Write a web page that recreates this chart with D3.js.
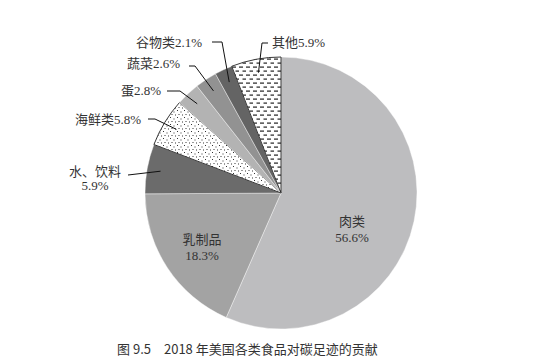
<!DOCTYPE html>
<html>
<head>
<meta charset="utf-8">
<script src="https://cdn.jsdelivr.net/npm/d3@7"></script>
<style>
  body { margin: 0; background: #fff; }
  svg { display: block; }
</style>
</head>
<body>
<div id="chart"></div>
<script>
// data
const categories = ['肉类', '乳制品', '水、饮料', '海鲜类', '蛋', '蔬菜', '谷物类', '其他']
const shares = [56.6, 18.3, 5.9, 5.8, 2.8, 2.6, 2.1, 5.9]
const caption = '图 9.5\u30002018 年美国各类食品对碳足迹的贡献'

const width = 545
const height = 364
const cx = 281
const cy = 193
const radius = 136

const fills = ['#bdbdbf', '#a3a3a3', '#6b6b6b', 'url(#dots)', '#b3b3b3', '#929292', '#646464', 'url(#dashes)']

// label layout: inside = drawn in slice, else text + leader corner
const labelLayout = [
    { inside: true, x: 352, y: 226 },
    { inside: true, x: 202, y: 244 },
    { x: 95, y: 176, two: true, corner: [128, 175], stub: 128 },
    { x: 75, y: 124, anchor: 'start', corner: [155, 119], stub: 148 },
    { x: 121, y: 95, anchor: 'start', corner: [180, 91], stub: 167 },
    { x: 127, y: 68, anchor: 'start', corner: [195, 66], stub: 189 },
    { x: 136, y: 47, anchor: 'start', corner: [222, 42], stub: 212 },
    { x: 272, y: 47, anchor: 'start', corner: [262, 43], stub: 268 }
]

const svg = d3.select('#chart').append('svg')
    .attr('width', width)
    .attr('height', height)

const defs = svg.append('defs')
const dots = defs.append('pattern')
    .attr('id', 'dots')
    .attr('patternUnits', 'userSpaceOnUse')
    .attr('width', 7)
    .attr('height', 7)
dots.append('rect').attr('width', 7).attr('height', 7).attr('fill', '#fff')
;[[1, 1], [4.5, 2.5], [2.5, 5], [6, 5.5]].forEach((p) => {
    dots.append('rect')
        .attr('x', p[0]).attr('y', p[1])
        .attr('width', 1).attr('height', 1)
        .attr('fill', '#333')
})

const dashes = defs.append('pattern')
    .attr('id', 'dashes')
    .attr('patternUnits', 'userSpaceOnUse')
    .attr('width', 7)
    .attr('height', 8)
dashes.append('rect').attr('width', 7).attr('height', 8).attr('fill', '#fff')
dashes.append('rect').attr('x', 0).attr('y', 1.5).attr('width', 4).attr('height', 1.2).attr('fill', '#222')
dashes.append('rect').attr('x', 3.5).attr('y', 5.5).attr('width', 4).attr('height', 1.2).attr('fill', '#222')

const pie = d3.pie().sort(null).value((d) => d)
const arcs = pie(shares)
const arc = d3.arc().innerRadius(0).outerRadius(radius)

const g = svg.append('g').attr('transform', 'translate(' + cx + ',' + cy + ')')

g.selectAll('path')
    .data(arcs)
    .enter()
    .append('path')
    .attr('d', arc)
    .attr('fill', (d, i) => fills[i])
    .attr('stroke', (d, i) => (i === 3 || i === 7) ? '#222' : '#fff')
    .attr('stroke-width', (d, i) => (i === 3 || i === 7) ? 0.9 : 0.4)

// leaders + labels
const labelG = svg.append('g')
    .attr('font-family', '"Liberation Serif", "Noto Sans CJK SC", serif')
    .attr('font-size', 13)
    .attr('fill', '#333')

arcs.forEach((a, i) => {
    const L = labelLayout[i]
    const pct = d3.format('.1f')(shares[i]) + '%'
    if (L.inside) {
        labelG.append('text').attr('x', L.x).attr('y', L.y).attr('text-anchor', 'middle').text(categories[i])
        labelG.append('text').attr('x', L.x).attr('y', L.y + 16).attr('text-anchor', 'middle').text(pct)
        return
    }
    const mid = (a.startAngle + a.endAngle) / 2
    const ex = cx + Math.sin(mid) * radius * 0.9
    const ey = cy - Math.cos(mid) * radius * 0.9
    const pts = [[L.stub, L.corner[1]], L.corner, [ex, ey]]
    labelG.append('path')
        .attr('d', d3.line()(pts))
        .attr('fill', 'none')
        .attr('stroke', '#111')
        .attr('stroke-width', 1)
    if (L.two) {
        labelG.append('text').attr('x', L.x).attr('y', L.y).attr('text-anchor', 'middle').text(categories[i])
        labelG.append('text').attr('x', L.x).attr('y', L.y + 14).attr('text-anchor', 'middle').text(pct)
    } else {
        labelG.append('text').attr('x', L.x).attr('y', L.y).attr('text-anchor', L.anchor).text(categories[i] + pct)
    }
})

svg.append('text')
    .attr('x', 117)
    .attr('y', 354)
    .attr('font-family', '"Noto Sans CJK SC", "Noto Sans", sans-serif')
    .attr('font-size', 13)
    .attr('fill', '#333')
    .text(caption)
</script>
</body>
</html>
